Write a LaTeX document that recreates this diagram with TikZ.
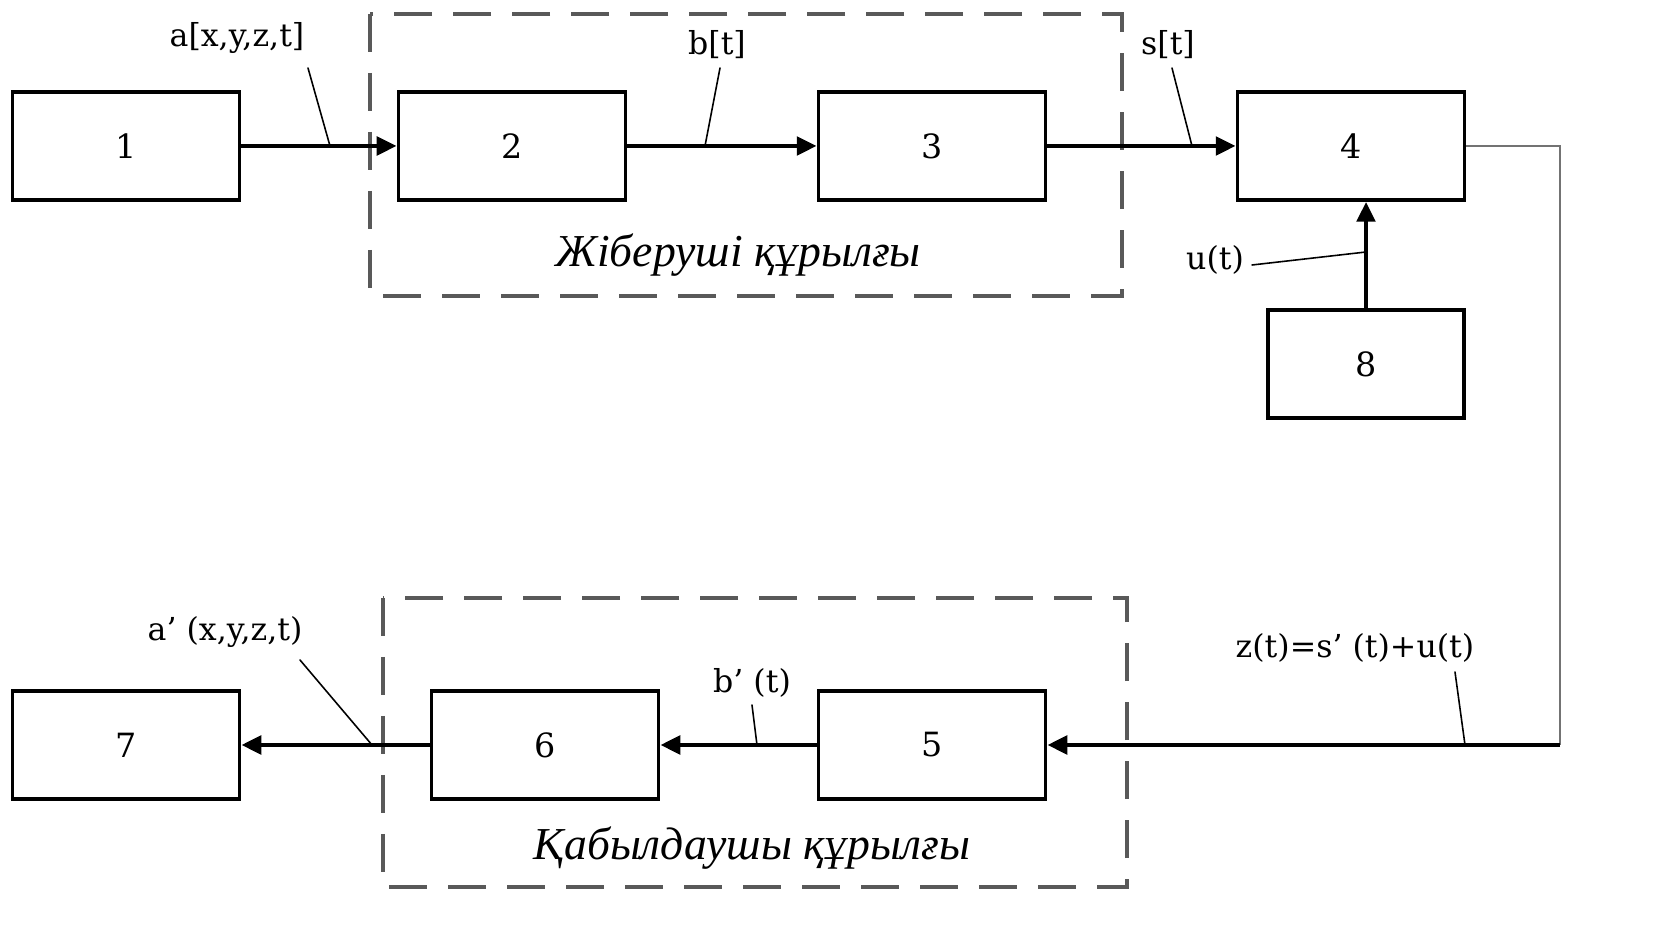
\documentclass[tikz,border=0pt]{standalone}
\usepackage{fontspec}
\setmainfont{DejaVu Serif}
\newfontfamily\capfont{Liberation Serif}
\usepackage{tkz-euclide}
\usetikzlibrary{arrows.meta}

\tikzset{
  block/.style={draw,line width=2pt,minimum width=4.54cm,minimum height=2.16cm,
    inner sep=0pt,font=\fontsize{19}{19}\selectfont},
  sig/.style={line width=2.8pt,-{Triangle[length=0.4cm,width=0.36cm]}},
  lbl/.style={inner sep=0pt,font=\fontsize{18}{18}\selectfont},
  frame/.style={draw=black!65,line width=2pt,dash pattern=on 0.76cm off 0.42cm},
  caption/.style={inner sep=0pt,font=\capfont\itshape\fontsize{26}{26}\selectfont}
}

\begin{document}
\begin{tikzpicture}
\useasboundingbox (0,0) rectangle (33.1,18.82);
% block centres
\tkzDefPoint(2.52,15.90){P1}\tkzDefPoint(10.24,15.90){P2}
\tkzDefPoint(18.64,15.90){P3}\tkzDefPoint(27.02,15.90){P4}
\tkzDefPoint(27.32,11.54){P8}
\tkzDefPoint(2.52,3.92){P7}\tkzDefPoint(10.90,3.92){P6}
\tkzDefPoint(18.64,3.92){P5}
% corners of the feedback wire
\tkzDefPoint(31.2,15.90){C1}\tkzDefPoint(31.2,3.92){C2}
% frames
\tkzDefPoint(7.40,18.54){TxA}\tkzDefPoint(22.44,12.90){TxB}
\tkzDefPoint(7.66,6.86){RxA}\tkzDefPoint(22.54,1.08){RxB}
% leader ends
\tkzDefPoint(6.16,17.46){La}\tkzDefPoint(6.60,15.90){Ma}
\tkzDefPoint(14.40,17.46){Lb}\tkzDefPoint(14.10,15.90){Mb}
\tkzDefPoint(23.44,17.46){Ls}\tkzDefPoint(23.84,15.90){Ms}
\tkzDefPoint(25.04,13.52){Lu}\tkzDefPoint(27.32,13.78){Mu}
\tkzDefPoint(6.00,5.62){Lap}\tkzDefPoint(7.44,3.92){Map}
\tkzDefPoint(15.04,4.72){Lbp}\tkzDefPoint(15.14,3.92){Mbp}
\tkzDefPoint(29.10,5.38){Lz}\tkzDefPoint(29.30,3.92){Mz}

\draw[frame] (TxA) rectangle (TxB);
\draw[frame] (RxA) rectangle (RxB);

\node[block] (b1) at (P1) {1};
\node[block] (b2) at (P2) {2};
\node[block] (b3) at (P3) {3};
\node[block] (b4) at (P4) {4};
\node[block,minimum width=3.92cm] (b8) at (P8) {8};
\node[block] (b7) at (P7) {7};
\node[block] (b6) at (P6) {6};
\node[block] (b5) at (P5) {5};

\draw[sig] (b1) -- (b2);
\draw[sig] (b2) -- (b3);
\draw[sig] (b3) -- (b4);
\draw[sig] (b8.north) -- (b8.north |- b4.south);
\draw[line width=1.6pt,black!55] (b4.east) -- (C1) -- (C2);
\draw[sig] (C2) -- (b5.east);
\draw[sig] (b5) -- (b6);
\draw[sig] (b6) -- (b7);

\node[lbl] (la) at (4.74,18.06) {a[x,y,z,t]};
\node[lbl] (lb) at (14.34,17.92) {b[t]};
\node[lbl] (ls) at (23.36,17.92) {s[t]};
\node[lbl] (lu) at (24.30,13.62) {u(t)};
\node[lbl] (lap) at (4.50,6.18) {a' (x,y,z,t)};
\node[lbl] (lbp) at (15.04,5.16) {b' (t)};
\node[lbl] (lz) at (27.10,5.86) {z(t)=s' (t)+u(t)};
\tkzDrawSegments[line width=0.9pt](La,Ma Lb,Mb Ls,Ms Lu,Mu Lap,Map Lbp,Mbp Lz,Mz)

\node[caption] (tx) at (14.76,13.72) {Жіберуші құрылғы};
\node[caption] (rx) at (15.04,1.86) {Қабылдаушы құрылғы};
\end{tikzpicture}
\end{document}
